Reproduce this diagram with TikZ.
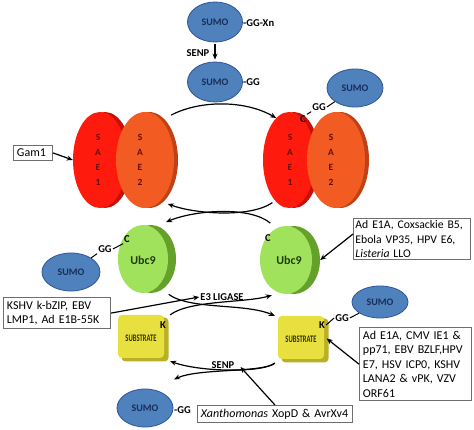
\documentclass[tikz,border=0pt]{standalone}
\usepackage{fontspec}
\setmainfont{Carlito}
\usetikzlibrary{arrows.meta,shapes.geometric}
\definecolor{sumoblue}{RGB}{79,129,189}
\definecolor{sumoedge}{RGB}{47,85,151}
\definecolor{sumotext}{RGB}{25,45,90}
\definecolor{saeone}{RGB}{255,26,14}
\definecolor{saeoneside}{RGB}{200,16,8}
\definecolor{saetwo}{RGB}{242,92,34}
\definecolor{saetwoside}{RGB}{190,66,22}
\definecolor{saetext}{RGB}{100,14,8}
\definecolor{ubcface}{RGB}{160,226,92}
\definecolor{ubcside}{RGB}{100,160,42}
\definecolor{ubctext}{RGB}{30,60,14}
\definecolor{subface}{RGB}{232,224,62}
\definecolor{subside}{RGB}{186,176,40}
\definecolor{subtext}{RGB}{50,48,10}
\definecolor{boxgray}{RGB}{110,110,110}
\tikzset{
  arr/.style={-{Stealth[length=6pt,width=5pt]}, line width=1.2pt},
  link/.style={line width=1pt},
  sumo/.style={ellipse, draw=sumoedge, line width=0.8pt, fill=sumoblue, inner sep=0pt,
    font=\fontsize{10}{11}\selectfont\bfseries, text=sumotext},
  disc/.style={ellipse, inner sep=0pt, draw=none},
  lbl/.style={font=\fontsize{10.5}{12}\selectfont\bfseries, inner sep=1pt},
  letters/.style={align=center, font=\fontsize{9.5}{15}\selectfont\bfseries, text=saetext, inner sep=0pt},
  ubclbl/.style={font=\fontsize{12}{13}\selectfont\bfseries, text=ubctext, inner sep=0pt},
  subbox/.style={rectangle, rounded corners=4pt, inner sep=0pt, draw=none},
  sublbl/.style={font=\fontsize{10}{11}\selectfont\bfseries, text=subtext, inner sep=0pt},
  infobox/.style={draw=boxgray, line width=0.9pt, fill=white, font=\fontsize{12}{14.5}\selectfont,
    align=left, inner sep=3.5pt, anchor=north west},
}
\begin{document}
\begin{tikzpicture}[x=1pt,y=-1pt]
\useasboundingbox[fill=white] (0,0) rectangle (474,430);

% SUMO ellipses
\node[sumo, minimum width=55pt, minimum height=40pt] (s1) at (215,22) {SUMO};
\node[sumo, minimum width=55pt, minimum height=40pt] (s2) at (215,82) {SUMO};
\node[sumo, minimum width=56pt, minimum height=38pt] (s3) at (355,88) {SUMO};
\node[sumo, minimum width=58pt, minimum height=38pt] (s4) at (71,272) {SUMO};
\node[sumo, minimum width=56pt, minimum height=32pt] (s5) at (380,302) {SUMO};
\node[sumo, minimum width=56pt, minimum height=38pt] (s6) at (145,408) {SUMO};

\node[lbl, anchor=west] (gg1) at (242,23) {-GG-Xn};
\node[lbl] (senp1) at (198,53) {SENP};
\node[lbl, anchor=west] (gg2) at (242,82) {-GG};
\node[lbl, anchor=west] (gg6) at (173,410) {-GG};
\draw[arr, shorten <=2pt, shorten >=2pt] (s1.south) -- (s2.north);

% left SAE pair
\node[disc, fill=saeoneside, minimum width=54pt, minimum height=96pt] (sae1Lb) at (105,160) {};
\node[disc, fill=saeone, minimum width=54pt, minimum height=96pt] (sae1L) at (100,160) {};
\node[disc, fill=saetwoside, minimum width=58pt, minimum height=96pt] (sae2Lb) at (149,160) {};
\node[disc, fill=saetwo, minimum width=58pt, minimum height=96pt] (sae2L) at (145,160) {};
\node[letters] (t1L) at (98,160) {S\\A\\E\\1};
\node[letters] (t2L) at (140,160) {S\\A\\E\\2};

% right SAE pair
\node[disc, fill=saeoneside, minimum width=52pt, minimum height=96pt] (sae1Rb) at (294,160) {};
\node[disc, fill=saeone, minimum width=52pt, minimum height=96pt] (sae1R) at (289,160) {};
\node[disc, fill=saetwoside, minimum width=58pt, minimum height=96pt] (sae2Rb) at (340,160) {};
\node[disc, fill=saetwo, minimum width=58pt, minimum height=96pt] (sae2R) at (336,160) {};
\node[letters] (t1R) at (290,160) {S\\A\\E\\1};
\node[letters] (t2R) at (331,160) {S\\A\\E\\2};

\node[lbl] (gg3) at (319,107) {GG};
\node[lbl] (c3) at (303,119) {C};
\draw[link] (s3) -- (gg3.east);
\draw[link] (gg3.south west) -- (c3.north east);

% Ubc9 discs
\node[disc, fill=ubcside, minimum width=50pt, minimum height=68pt] (ubcLb) at (151,259) {};
\node[disc, fill=ubcface, minimum width=50pt, minimum height=68pt] (ubcL) at (143,259) {};
\node[ubclbl] (uL) at (143,260) {Ubc9};
\node[disc, fill=ubcside, minimum width=52pt, minimum height=68pt] (ubcRb) at (294,260) {};
\node[disc, fill=ubcface, minimum width=52pt, minimum height=68pt] (ubcR) at (286,260) {};
\node[ubclbl] (uR) at (289,260) {Ubc9};

\node[lbl] (gg4) at (105,249) {GG};
\node[lbl] (c4) at (127,239) {C};
\node[lbl] (c5) at (268,238) {C};
\draw[link] (s4) -- (gg4.south west);
\draw[link] (gg4.east) -- (c4.south west);

% substrates
\node[subbox, fill=subside, minimum width=47pt, minimum height=44pt] (subLb) at (145,339.5) {};
\node[subbox, fill=subface, minimum width=46pt, minimum height=43pt] (subL) at (141,336.5) {};
\node[sublbl] (stL) at (141,338) {\scalebox{0.66}[1]{SUBSTRATE}};
\node[subbox, fill=subside, minimum width=47pt, minimum height=44pt] (subRb) at (305,340.5) {};
\node[subbox, fill=subface, minimum width=46pt, minimum height=43pt] (subR) at (301,337.5) {};
\node[sublbl] (stR) at (301,339) {\scalebox{0.66}[1]{SUBSTRATE}};
\node[lbl] (k1) at (163,325) {K};
\node[lbl] (k2) at (322,325) {K};
\node[lbl] (gg5) at (342,318) {GG};
\draw[link] (k2.east) -- (gg5.west);
\draw[link] (gg5.east) -- (s5);

% info boxes
\node[infobox, text width=32pt] (gam) at (13,145) {Gam1};
\node[infobox, text width=113pt, inner sep=2pt, font=\fontsize{11.7}{14.5}\selectfont] (ubcinh) at (353,218) {Ad E1A, Coxsackie B5,\\Ebola VP35, HPV E6,\\\textit{Listeria} LLO};
\node[infobox, text width=100pt] (kshv) at (3,297) {KSHV k-bZIP, EBV\\LMP1, Ad E1B-55K};
\node[infobox, text width=105pt] (subinh) at (359,327) {Ad E1A, CMV IE1 \&\\pp71, EBV BZLF,HPV\\E7, HSV ICP0, KSHV\\LANA2 \& vPK, VZV\\ORF61};
\node[infobox, text width=148pt] (xan) at (197,405) {\textit{Xanthomonas} XopD \& AvrXv4};

\node[lbl] (e3) at (222,297) {E3 LIGASE};
\node[lbl] (senp2) at (223,365) {SENP};

% arrows
\draw[arr] (gam.east) -- (sae1L.west);
\draw[arr] ([shift={(6,-10)}]sae2L.60) .. controls (200,100) and (245,100) .. (sae1R.107);
\draw[arr] ([shift={(-1,4)}]sae1R.248) .. controls (250,218) and (195,214) .. ([shift={(4,7)}]sae2L.-63);
\draw[arr] ([shift={(-3,-7)}]ubcR.113) .. controls (250,206) and (195,210) .. ([shift={(3,-7)}]ubcLb.68);
\draw[arr] ([shift={(8,11)}]ubcL.-54) .. controls (190,310) and (245,303) .. ([shift={(-3,0)}]subR.north west);
\draw[arr] ([shift={(6,0)}]subL.north east) .. controls (190,300) and (245,303) .. ([shift={(-2,5)}]ubcR.248);
\draw[arr] (kshv.east) -- (e3.west);
\draw[arr] ([yshift=5pt]ubcinh.west) -- (ubcRb.east);
\draw[arr] (subinh.west) -- ([shift={(-2,-2)}]subRb.east);
\draw[arr] ([shift={(-3,4)}]subR.south west) .. controls (262,373) and (200,372) .. ([shift={(6,3)}]subL.south east);
\draw[arr] ([shift={(-3,4)}]subR.south west) .. controls (262,373) and (200,368) .. ([shift={(9,-15)}]s6.north east);
\draw[arr] (xan.north) -- ([shift={(5,2)}]senp2.east);
\end{tikzpicture}
\end{document}
